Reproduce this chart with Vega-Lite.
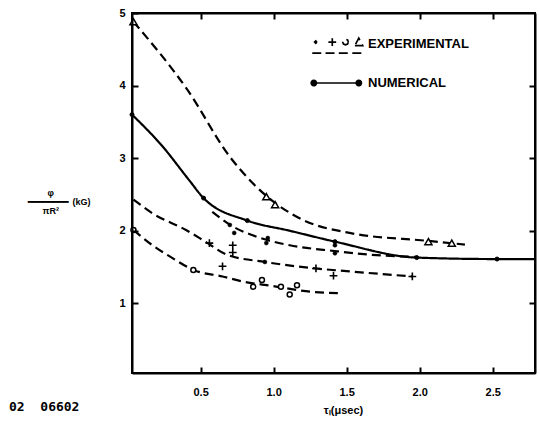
{
  "$schema": "https://vega.github.io/schema/vega-lite/v6.json",
  "width": 403,
  "height": 360,
  "autosize": {"type": "none"},
  "padding": {"left": 132, "top": 13, "right": 5, "bottom": 48},
  "background": "white",
  "title": {"text": "02\u00a0\u00a006602", "orient": "bottom", "anchor": "start", "frame": "bounds", "offset": -14, "dx": -18, "font": "DejaVu Sans Mono", "fontSize": 13, "fontWeight": "bold", "color": "black"},
  "datasets": {
    "curves": [
      {"series": "triangle", "kind": "EXPERIMENTAL", "x": 0.04, "y": 4.88},
      {"series": "triangle", "kind": "EXPERIMENTAL", "x": 0.41, "y": 3.94},
      {"series": "triangle", "kind": "EXPERIMENTAL", "x": 0.70, "y": 3.02},
      {"series": "triangle", "kind": "EXPERIMENTAL", "x": 0.95, "y": 2.48},
      {"series": "triangle", "kind": "EXPERIMENTAL", "x": 1.20, "y": 2.15},
      {"series": "triangle", "kind": "EXPERIMENTAL", "x": 1.52, "y": 1.97},
      {"series": "triangle", "kind": "EXPERIMENTAL", "x": 2.06, "y": 1.86},
      {"series": "triangle", "kind": "EXPERIMENTAL", "x": 2.31, "y": 1.81},
      {"series": "dot", "kind": "EXPERIMENTAL", "x": 0.58, "y": 2.26},
      {"series": "dot", "kind": "EXPERIMENTAL", "x": 0.72, "y": 2.06},
      {"series": "dot", "kind": "EXPERIMENTAL", "x": 0.88, "y": 1.92},
      {"series": "dot", "kind": "EXPERIMENTAL", "x": 1.11, "y": 1.80},
      {"series": "dot", "kind": "EXPERIMENTAL", "x": 1.42, "y": 1.72},
      {"series": "dot", "kind": "EXPERIMENTAL", "x": 1.66, "y": 1.67},
      {"series": "dot", "kind": "EXPERIMENTAL", "x": 1.98, "y": 1.64},
      {"series": "plus", "kind": "EXPERIMENTAL", "x": 0.04, "y": 2.43},
      {"series": "plus", "kind": "EXPERIMENTAL", "x": 0.17, "y": 2.24},
      {"series": "plus", "kind": "EXPERIMENTAL", "x": 0.40, "y": 2.01},
      {"series": "plus", "kind": "EXPERIMENTAL", "x": 0.54, "y": 1.84},
      {"series": "plus", "kind": "EXPERIMENTAL", "x": 0.68, "y": 1.67},
      {"series": "plus", "kind": "EXPERIMENTAL", "x": 0.94, "y": 1.57},
      {"series": "plus", "kind": "EXPERIMENTAL", "x": 1.29, "y": 1.48},
      {"series": "plus", "kind": "EXPERIMENTAL", "x": 1.52, "y": 1.44},
      {"series": "plus", "kind": "EXPERIMENTAL", "x": 1.95, "y": 1.37},
      {"series": "circle", "kind": "EXPERIMENTAL", "x": 0.04, "y": 2.01},
      {"series": "circle", "kind": "EXPERIMENTAL", "x": 0.17, "y": 1.80},
      {"series": "circle", "kind": "EXPERIMENTAL", "x": 0.31, "y": 1.62},
      {"series": "circle", "kind": "EXPERIMENTAL", "x": 0.45, "y": 1.46},
      {"series": "circle", "kind": "EXPERIMENTAL", "x": 0.65, "y": 1.37},
      {"series": "circle", "kind": "EXPERIMENTAL", "x": 0.79, "y": 1.30},
      {"series": "circle", "kind": "EXPERIMENTAL", "x": 0.99, "y": 1.24},
      {"series": "circle", "kind": "EXPERIMENTAL", "x": 1.25, "y": 1.16},
      {"series": "circle", "kind": "EXPERIMENTAL", "x": 1.44, "y": 1.14},
      {"series": "numerical", "kind": "NUMERICAL", "x": 0.03, "y": 3.60},
      {"series": "numerical", "kind": "NUMERICAL", "x": 0.24, "y": 3.16},
      {"series": "numerical", "kind": "NUMERICAL", "x": 0.42, "y": 2.70},
      {"series": "numerical", "kind": "NUMERICAL", "x": 0.52, "y": 2.45},
      {"series": "numerical", "kind": "NUMERICAL", "x": 0.82, "y": 2.14},
      {"series": "numerical", "kind": "NUMERICAL", "x": 1.11, "y": 2.00},
      {"series": "numerical", "kind": "NUMERICAL", "x": 1.42, "y": 1.85},
      {"series": "numerical", "kind": "NUMERICAL", "x": 1.98, "y": 1.63},
      {"series": "numerical", "kind": "NUMERICAL", "x": 2.53, "y": 1.61},
      {"series": "numerical", "kind": "NUMERICAL", "x": 2.79, "y": 1.61}
    ],
    "markers": [
      {"m": "triangle", "x": 0.04, "y": 4.88},
      {"m": "triangle", "x": 0.95, "y": 2.47},
      {"m": "triangle", "x": 1.01, "y": 2.36},
      {"m": "triangle", "x": 2.06, "y": 1.85},
      {"m": "triangle", "x": 2.22, "y": 1.83},
      {"m": "circle", "x": 0.04, "y": 2.01},
      {"m": "circle", "x": 0.45, "y": 1.46},
      {"m": "circle", "x": 0.86, "y": 1.23},
      {"m": "circle", "x": 0.92, "y": 1.32},
      {"m": "circle", "x": 1.05, "y": 1.23},
      {"m": "circle", "x": 1.11, "y": 1.12},
      {"m": "circle", "x": 1.16, "y": 1.25},
      {"m": "plus", "x": 0.56, "y": 1.83},
      {"m": "plus", "x": 0.65, "y": 1.51},
      {"m": "plus", "x": 0.72, "y": 1.80},
      {"m": "plus", "x": 0.72, "y": 1.70},
      {"m": "plus", "x": 1.29, "y": 1.48},
      {"m": "plus", "x": 1.41, "y": 1.38},
      {"m": "plus", "x": 1.95, "y": 1.37},
      {"m": "dot", "x": 0.70, "y": 2.08},
      {"m": "dot", "x": 0.73, "y": 1.97},
      {"m": "dot", "x": 0.96, "y": 1.90},
      {"m": "dot", "x": 0.95, "y": 1.83},
      {"m": "dot", "x": 1.42, "y": 1.80},
      {"m": "dot", "x": 1.42, "y": 1.69},
      {"m": "dot", "x": 0.94, "y": 1.57},
      {"m": "num", "x": 0.03, "y": 3.60},
      {"m": "num", "x": 0.52, "y": 2.45},
      {"m": "num", "x": 0.82, "y": 2.14},
      {"m": "num", "x": 1.42, "y": 1.85},
      {"m": "num", "x": 1.98, "y": 1.63},
      {"m": "num", "x": 2.53, "y": 1.61}
    ]
  },
  "layer": [
    {
      "data": {"name": "curves"},
      "mark": {"type": "line", "interpolate": "monotone", "strokeWidth": 2.2},
      "encoding": {
        "x": {"field": "x", "type": "quantitative", "scale": {"domain": [0.03, 2.79], "nice": false, "zero": false},
          "axis": {"values": [0.5, 1, 1.5, 2, 2.5], "format": ".1f", "title": "τₗ(μsec)", "domain": true, "ticks": true, "tickSize": -6, "tickWidth": 2, "domainWidth": 2, "zindex": 1, "labelPadding": 19, "titleX": 211, "titleY": 37, "titleBaseline": "middle"}},
        "y": {"field": "y", "type": "quantitative", "scale": {"domain": [0.04, 5], "nice": false, "zero": false},
          "axis": {"values": [1, 2, 3, 4, 5], "format": "d", "domain": true, "ticks": true, "tickSize": -6, "tickWidth": 2, "domainWidth": 2, "zindex": 1, "labelPadding": 13,
            "title": ["\u200b\u00a0\u00a0\u00a0\u00a0\u00a0\u00a0\u00a0\u00a0φ", "━━━━━━━━\u00a0\u00a0(kG)", "\u200b\u00a0\u00a0\u00a0\u00a0\u00a0\u00a0πR²"],
            "titleAngle": 0, "titleAlign": "left", "titleBaseline": "middle", "titleX": -105, "titleY": 179, "titleLineHeight": 9, "titleFontSize": 9}},
        "detail": {"field": "series"},
        "strokeDash": {"field": "kind", "type": "nominal", "legend": null,
          "scale": {"domain": ["EXPERIMENTAL", "NUMERICAL"], "range": [[9, 5], [1, 0]]}},
        "color": {"field": "kind", "type": "nominal",
          "scale": {"domain": ["EXPERIMENTAL", "NUMERICAL"], "range": ["black", "black"]},
          "legend": {"title": null, "orient": "none", "legendX": 192, "legendY": 17, "padding": 0,
            "symbolSize": 676, "symbolStrokeWidth": 1.7, "symbolStrokeColor": "black",
            "labelFont": "Liberation Sans Narrow, Liberation Sans, sans-serif", "labelFontWeight": "bold", "labelFontSize": 13, "labelColor": "black",
            "labelOffset": 16, "rowPadding": 12,
            "encode": {"symbols": {"update": {
              "shape": {"signal": "datum.value === 'NUMERICAL' ? 'M-1.86,0L1.6,0M-2.06,0a0.2,0.2 0 1,0 0.4,0a0.2,0.2 0 1,0 -0.4,0M1.4,0a0.2,0.2 0 1,0 0.4,0a0.2,0.2 0 1,0 -0.4,0' : 'M-1.62,-0.15L-1.71,-0.06L-1.8,-0.15L-1.71,-0.24L-1.62,-0.15M-0.74,-0.15L-0.14,-0.15M-0.44,-0.45L-0.44,0.15M0.8,-0.15L0.736,0.006L0.58,0.07L0.424,0.006L0.36,-0.15L0.424,-0.306L0.58,-0.37L0.736,-0.306L0.8,-0.15M1.3,0.12L1.9,0.12L1.6,-0.45L1.3,0.12M-1.98,0.7L-1.22,0.7M-0.96,0.7L-0.2,0.7M0.06,0.7L0.84,0.7M1.1,0.7L1.98,0.7'"},
              "fill": {"signal": "datum.value === 'NUMERICAL' ? 'black' : 'transparent'"},
              "stroke": {"value": "black"},
              "strokeWidth": {"value": 1.7}
            }}}
          }
        }
      }
    },
    {
      "data": {"name": "markers"},
      "transform": [{"filter": "datum.m === 'triangle'"}],
      "mark": {"type": "point", "shape": "triangle-up", "size": 50, "fill": "white", "stroke": "black", "strokeWidth": 1.5, "opacity": 1},
      "encoding": {
        "x": {"field": "x", "type": "quantitative", "scale": {"domain": [0.03, 2.79], "nice": false, "zero": false},
          "axis": {"orient": "top", "values": [0.5, 1, 1.5, 2, 2.5], "labels": false, "title": null, "domain": true, "ticks": true, "tickSize": -6, "tickWidth": 2, "domainWidth": 2, "zindex": 1}},
        "y": {"field": "y", "type": "quantitative", "scale": {"domain": [0.04, 5], "nice": false, "zero": false},
          "axis": {"orient": "right", "values": [1, 2, 3, 4], "labels": false, "title": null, "domain": true, "ticks": true, "tickSize": -6, "tickWidth": 2, "domainWidth": 2, "zindex": 1}}
      }
    },
    {
      "data": {"name": "markers"},
      "transform": [{"filter": "datum.m === 'circle'"}],
      "mark": {"type": "point", "shape": "circle", "size": 25, "fill": "white", "stroke": "black", "strokeWidth": 1.5, "opacity": 1},
      "encoding": {"x": {"field": "x", "type": "quantitative", "axis": null}, "y": {"field": "y", "type": "quantitative", "axis": null}}
    },
    {
      "data": {"name": "markers"},
      "transform": [{"filter": "datum.m === 'plus'"}],
      "mark": {"type": "point", "shape": "M-1,0L1,0M0,-1L0,1", "size": 60, "fill": "transparent", "stroke": "black", "strokeWidth": 1.6, "opacity": 1},
      "encoding": {"x": {"field": "x", "type": "quantitative", "axis": null}, "y": {"field": "y", "type": "quantitative", "axis": null}}
    },
    {
      "data": {"name": "markers"},
      "transform": [{"filter": "datum.m === 'dot'"}],
      "mark": {"type": "point", "shape": "circle", "size": 16, "fill": "black", "stroke": "black", "strokeWidth": 0.5, "opacity": 1},
      "encoding": {"x": {"field": "x", "type": "quantitative", "axis": null}, "y": {"field": "y", "type": "quantitative", "axis": null}}
    },
    {
      "data": {"name": "markers"},
      "transform": [{"filter": "datum.m === 'num'"}],
      "mark": {"type": "point", "shape": "circle", "size": 16, "fill": "black", "stroke": "black", "strokeWidth": 1, "opacity": 1},
      "encoding": {"x": {"field": "x", "type": "quantitative", "axis": null}, "y": {"field": "y", "type": "quantitative", "axis": null}}
    }
  ],
  "resolve": {"axis": {"x": "independent", "y": "independent"}},
  "config": {
    "view": {"stroke": "black", "strokeWidth": 2, "strokeOpacity": 1},
    "axis": {"domainColor": "black", "tickColor": "black", "labelColor": "black", "titleColor": "black", "domainOpacity": 1, "tickOpacity": 1,
      "labelFont": "Liberation Sans", "labelFontWeight": "bold", "labelFontSize": 11,
      "titleFont": "Liberation Sans", "titleFontWeight": "bold", "titleFontSize": 11, "grid": false}
  }
}
